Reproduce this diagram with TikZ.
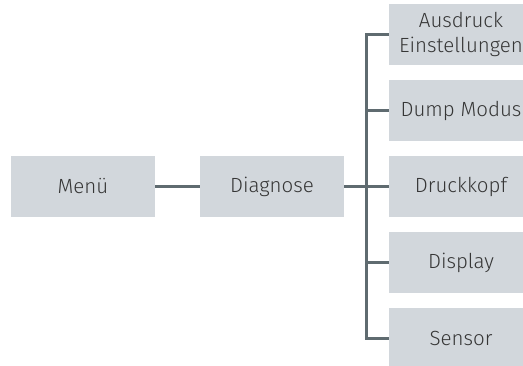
\documentclass[tikz,border=0pt]{standalone}
\usepackage{fontspec}
\setmainfont{Fira Sans Light}
\begin{document}
\begin{tikzpicture}[x=1pt,y=-1pt,
  box/.style={fill=boxfill, draw=none, minimum width=144pt, minimum height=61pt, inner sep=0pt,
    text=txt, font=\fontsize{20.5}{25}\selectfont, align=center},
  conn/.style={draw=linec, line width=2.5pt}]
\definecolor{boxfill}{HTML}{D2D7DC}
\definecolor{linec}{HTML}{5F6B70}
\definecolor{txt}{HTML}{363636}
\useasboundingbox (0,0) rectangle (523,365);
\clip (0,0) rectangle (523,365);
\node[box] (menu) at (83,186.5) {Menü};
\node[box] (diag) at (272,186.5) {Diagnose};
\node[box] (c1) at (461,34.5) {Ausdruck\\Einstellungen};
\node[box] (c2) at (461,110.5) {Dump Modus};
\node[box] (c3) at (461,186.5) {Druckkopf};
\node[box] (c4) at (461,262.5) {Display};
\node[box] (c5) at (461,338.5) {Sensor};
\draw[conn] (menu.east) -- (diag.west);
\coordinate (j) at (366.7,186.5);
\draw[conn] (diag.east) -- (j);
\draw[conn, line join=miter] (c1.west) -| (j) |- (c5.west);
\draw[conn] (j) |- (c2.west);
\draw[conn] (j) |- (c3.west);
\draw[conn] (j) |- (c4.west);
\end{tikzpicture}
\end{document}
